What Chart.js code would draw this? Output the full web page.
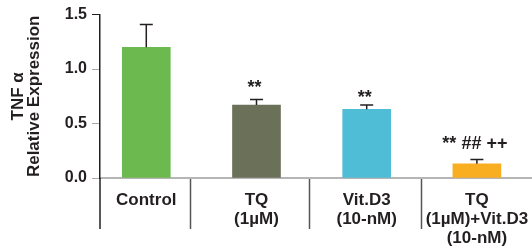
<!DOCTYPE html>
<html>
<head>
<meta charset="utf-8">
<script src="https://cdn.jsdelivr.net/npm/chart.js@4.4.0/dist/chart.umd.min.js"></script>
<style>
  html, body { margin: 0; padding: 0; background: #fff; }
  #wrap { width: 532px; height: 246px; }
</style>
</head>
<body>
<div id="wrap"><canvas id="tnfChart"></canvas></div>
<script>
// Data
const categories = [
    'Control',
    ['TQ', '(1µM)'],
    ['Vit.D3', '(10-nM)'],
    ['TQ', '(1µM)+Vit.D3', '(10-nM)']
];
const means = [1.20, 0.67, 0.63, 0.13];
const errors = [0.21, 0.05, 0.04, 0.04];
const marks = ['', '**', '**', '** ## ++'];
// level (in y units) of each mark's baseline
const markLevels = [null, 0.78, 0.69, 0.27];
const barColors = ['#6cb94f', '#6b7059', '#4fbdd5', '#f9ae22'];
const yTicks = [0, 0.5, 1.0, 1.5];
// group dividers below the axis, in category units
const dividers = [0.4, 1.48, 2.49];

const TEXT = '#231f20';
const FONT = "'Liberation Sans', Arial, sans-serif";

// Error bars (upper only) and significance marks
const errorBarPlugin = {
    id: 'errorBars',
    afterDatasetsDraw(chart) {
        const ctx = chart.ctx;
        const yScale = chart.scales.y;
        const meta = chart.getDatasetMeta(0);
        ctx.save();
        ctx.strokeStyle = TEXT;
        ctx.lineWidth = 1.5;
        meta.data.forEach((bar, i) => {
            const yTop = yScale.getPixelForValue(means[i] + errors[i]);
            ctx.beginPath();
            ctx.moveTo(bar.x, bar.y);
            ctx.lineTo(bar.x, yTop);
            ctx.moveTo(bar.x - 6.5, yTop);
            ctx.lineTo(bar.x + 6.5, yTop);
            ctx.stroke();

            if (marks[i]) {
                ctx.fillStyle = TEXT;
                ctx.font = "bold 18px " + FONT;
                ctx.textAlign = 'center';
                ctx.textBaseline = 'alphabetic';
                ctx.fillText(marks[i], bar.x - 2, yScale.getPixelForValue(markLevels[i]));
            }
        });
        ctx.restore();
    }
};

// Vertical dividers under the x axis, plus the y axis running down
const dividerPlugin = {
    id: 'dividers',
    afterDraw(chart) {
        const ctx = chart.ctx;
        const xScale = chart.scales.x;
        const area = chart.chartArea;
        const bottom = area.bottom + 51;
        ctx.save();
        ctx.lineWidth = 1.5;
        ctx.strokeStyle = '#555';
        dividers.forEach(v => {
            const x = Math.round(xScale.getPixelForValue(v)) + 0.5;
            ctx.beginPath();
            ctx.moveTo(x, area.bottom + 1);
            ctx.lineTo(x, bottom);
            ctx.stroke();
        });
        ctx.strokeStyle = TEXT;
        ctx.beginPath();
        ctx.moveTo(area.left, area.bottom);
        ctx.lineTo(area.left, bottom);
        ctx.stroke();
        ctx.restore();
    }
};

const ctx = document.getElementById('tnfChart').getContext('2d');
new Chart(ctx, {
    type: 'bar',
    data: {
        datasets: [{
            data: means.map((v, i) => ({ x: i, y: v })),
            backgroundColor: barColors,
            borderWidth: 0,
            barThickness: 48
        }]
    },
    options: {
        responsive: true,
        maintainAspectRatio: false,
        animation: false,
        layout: {
            padding: { top: 13, right: 0, left: 0, bottom: 0 }
        },
        plugins: {
            legend: { display: false },
            tooltip: { enabled: false }
        },
        scales: {
            x: {
                type: 'linear',
                offset: false,
                min: -0.42,
                max: 3.5,
                afterBuildTicks: (scale) => {
                    scale.ticks = categories.map((_, i) => ({ value: i }));
                },
                afterFit: (scale) => {
                    scale.height = 68;
                    scale.paddingRight = 0;
                    scale.paddingLeft = 0;
                },
                grid: { display: false },
                border: { color: '#b5b5b5', width: 2 },
                ticks: {
                    autoSkip: false,
                    maxRotation: 0,
                    padding: 5,
                    color: TEXT,
                    font: { family: FONT, size: 17, weight: 'bold', lineHeight: 1.12 },
                    callback: (value) => categories[value]
                }
            },
            y: {
                min: 0,
                max: 1.5,
                afterBuildTicks: (scale) => {
                    scale.ticks = yTicks.map(v => ({ value: v }));
                },
                afterFit: (scale) => { scale.width = 100; },
                grid: {
                    drawOnChartArea: false,
                    tickLength: 8,
                    lineWidth: 1,
                    color: (c) => (c.tick && c.tick.value === 1.5) ? TEXT : '#aaa'
                },
                border: { color: TEXT, width: 1.5 },
                ticks: {
                    padding: 5,
                    color: TEXT,
                    font: { family: FONT, size: 16, weight: 'bold' },
                    callback: (value) => value.toFixed(1)
                },
                title: {
                    display: true,
                    text: ['TNF α', 'Relative Expression'],
                    color: TEXT,
                    font: { family: FONT, size: 17, weight: 'bold', lineHeight: 0.95 },
                    padding: { top: 10, bottom: 0 }
                }
            }
        }
    },
    plugins: [errorBarPlugin, dividerPlugin]
});
</script>
</body>
</html>
